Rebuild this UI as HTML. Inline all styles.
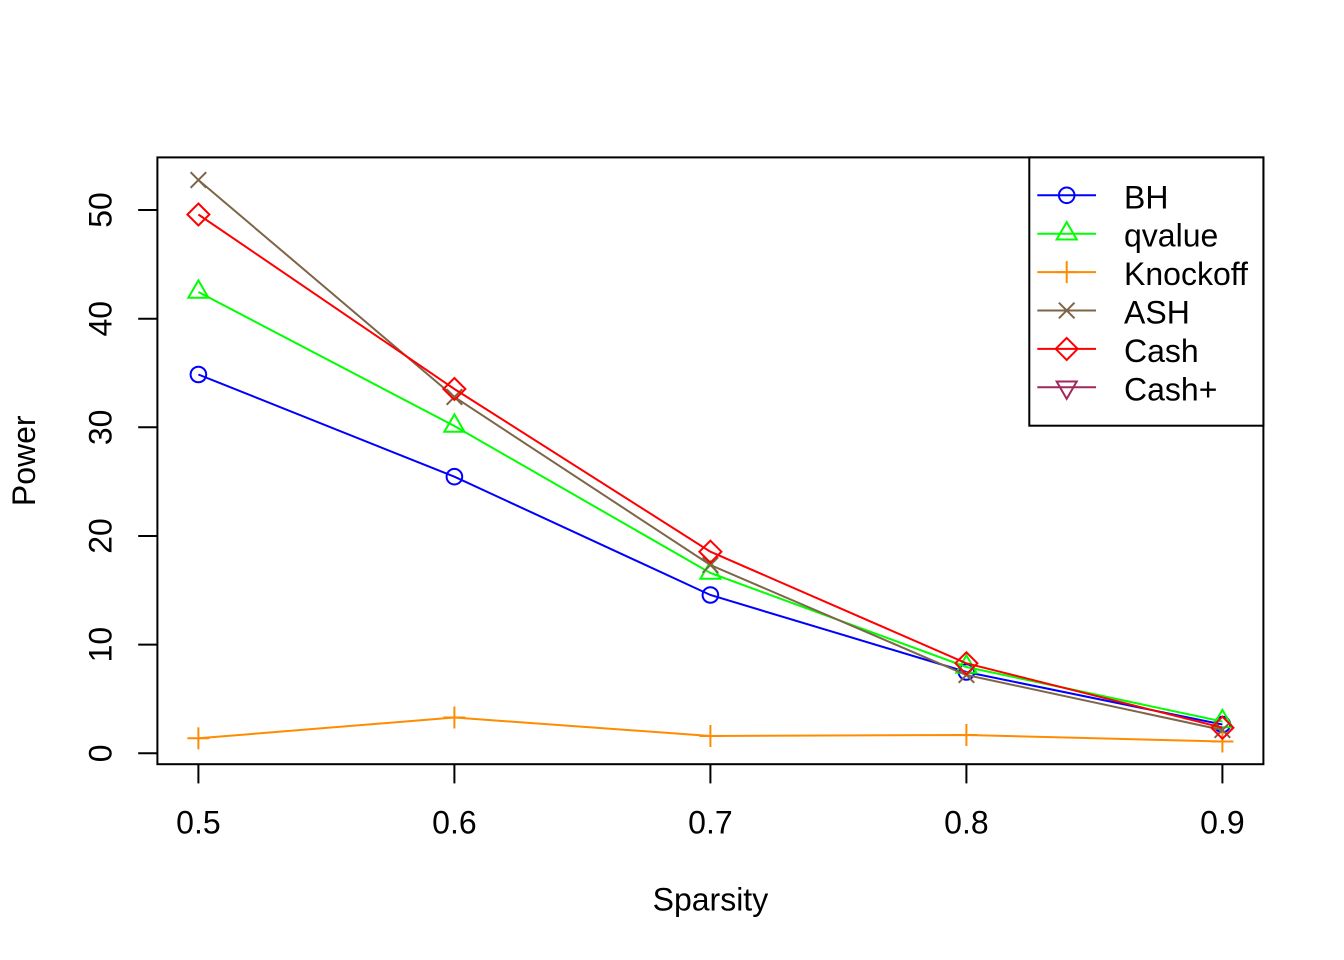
<!DOCTYPE html>
<html>
<head>
<meta charset="utf-8">
<style>
html,body{margin:0;padding:0;background:#fff;}
svg{display:block;}
text{font-family:"Liberation Sans",Arial,sans-serif;font-size:32px;fill:#000;}
</style>
</head>
<body>
<svg width="1344" height="960" viewBox="0 0 1344 960" xmlns="http://www.w3.org/2000/svg">
<rect x="0" y="0" width="1344" height="960" fill="#fff"/>

<!-- plot box -->
<rect x="157.4" y="157.4" width="1106" height="606.8" fill="none" stroke="#000" stroke-width="2"/>

<!-- x axis ticks -->
<g stroke="#000" stroke-width="2">
<line x1="198.4" y1="764.2" x2="198.4" y2="783.4"/>
<line x1="454.4" y1="764.2" x2="454.4" y2="783.4"/>
<line x1="710.4" y1="764.2" x2="710.4" y2="783.4"/>
<line x1="966.4" y1="764.2" x2="966.4" y2="783.4"/>
<line x1="1222.4" y1="764.2" x2="1222.4" y2="783.4"/>
<!-- y axis ticks -->
<line x1="157.4" y1="753.3" x2="138.2" y2="753.3"/>
<line x1="157.4" y1="644.6" x2="138.2" y2="644.6"/>
<line x1="157.4" y1="536.0" x2="138.2" y2="536.0"/>
<line x1="157.4" y1="427.3" x2="138.2" y2="427.3"/>
<line x1="157.4" y1="318.7" x2="138.2" y2="318.7"/>
<line x1="157.4" y1="210.0" x2="138.2" y2="210.0"/>
</g>

<!-- x tick labels -->
<g text-anchor="middle">
<text x="198.4" y="833.5">0.5</text>
<text x="454.4" y="833.5">0.6</text>
<text x="710.4" y="833.5">0.7</text>
<text x="966.4" y="833.5">0.8</text>
<text x="1222.4" y="833.5">0.9</text>
</g>
<!-- y tick labels -->
<g text-anchor="middle">
<text x="111.7" y="753.3" transform="rotate(-90 111.7 753.3)">0</text>
<text x="111.7" y="644.6" transform="rotate(-90 111.7 644.6)">10</text>
<text x="111.7" y="536.0" transform="rotate(-90 111.7 536.0)">20</text>
<text x="111.7" y="427.3" transform="rotate(-90 111.7 427.3)">30</text>
<text x="111.7" y="318.7" transform="rotate(-90 111.7 318.7)">40</text>
<text x="111.7" y="210.0" transform="rotate(-90 111.7 210.0)">50</text>
</g>

<!-- axis titles -->
<text x="710.4" y="910.5" text-anchor="middle">Sparsity</text>
<text x="35" y="460.8" text-anchor="middle" transform="rotate(-90 35 460.8)">Power</text>

<defs>
<g id="pcircle"><circle cx="0" cy="0" r="7.8" fill="none"/></g>
<g id="ptri"><polygon points="0,-11.6 10.05,5.8 -10.05,5.8" fill="none"/></g>
<g id="pplus"><line x1="-11" y1="0" x2="11" y2="0"/><line x1="0" y1="-11" x2="0" y2="11"/></g>
<g id="pcross"><line x1="-7.8" y1="-7.8" x2="7.8" y2="7.8"/><line x1="-7.8" y1="7.8" x2="7.8" y2="-7.8"/></g>
<g id="pdiam"><polygon points="0,-11 11,0 0,11 -11,0" fill="none"/></g>
<g id="pdtri"><polygon points="0,11.6 10.05,-5.8 -10.05,-5.8" fill="none"/></g>
</defs>

<!-- BH -->
<g stroke="#0000FF" stroke-width="2" fill="none">
<polyline points="198.4,374.5 454.4,476.7 710.4,595 966.4,672 1222.4,724.5"/>
<use href="#pcircle" x="198.4" y="374.5"/>
<use href="#pcircle" x="454.4" y="476.7"/>
<use href="#pcircle" x="710.4" y="595"/>
<use href="#pcircle" x="966.4" y="672"/>
<use href="#pcircle" x="1222.4" y="724.5"/>
</g>
<!-- qvalue -->
<g stroke="#00FF00" stroke-width="2" fill="none">
<polyline points="198.4,292 454.4,426 710.4,573 966.4,667 1222.4,721.5"/>
<use href="#ptri" x="198.4" y="292"/>
<use href="#ptri" x="454.4" y="426"/>
<use href="#ptri" x="710.4" y="573"/>
<use href="#ptri" x="966.4" y="667"/>
<use href="#ptri" x="1222.4" y="721.5"/>
</g>
<!-- Knockoff -->
<g stroke="#FF8C00" stroke-width="2" fill="none">
<polyline points="198.4,738.3 454.4,717.5 710.4,736 966.4,735 1222.4,741.5"/>
<use href="#pplus" x="198.4" y="738.3"/>
<use href="#pplus" x="454.4" y="717.5"/>
<use href="#pplus" x="710.4" y="736"/>
<use href="#pplus" x="966.4" y="735"/>
<use href="#pplus" x="1222.4" y="741.5"/>
</g>
<!-- ASH -->
<g stroke="#7E6548" stroke-width="2" fill="none">
<polyline points="198.4,180 454.4,397 710.4,565 966.4,675 1222.4,730"/>
<use href="#pcross" x="198.4" y="180"/>
<use href="#pcross" x="454.4" y="397"/>
<use href="#pcross" x="710.4" y="565"/>
<use href="#pcross" x="966.4" y="675"/>
<use href="#pcross" x="1222.4" y="730"/>
</g>
<!-- Cash -->
<g stroke="#FF0000" stroke-width="2" fill="none">
<polyline points="198.4,214.5 454.4,389 710.4,551.7 966.4,663.3 1222.4,727.7"/>
<use href="#pdiam" x="198.4" y="214.5"/>
<use href="#pdiam" x="454.4" y="389"/>
<use href="#pdiam" x="710.4" y="551.7"/>
<use href="#pdiam" x="966.4" y="663.3"/>
<use href="#pdiam" x="1222.4" y="727.7"/>
</g>

<!-- legend -->
<rect x="1029.3" y="157.4" width="234.1" height="268.3" fill="#fff" stroke="#000" stroke-width="2"/>
<g stroke-width="2" fill="none">
<g stroke="#0000FF"><line x1="1037.3" y1="195.3" x2="1096" y2="195.3"/><use href="#pcircle" x="1066.7" y="195.3"/></g>
<g stroke="#00FF00"><line x1="1037.3" y1="233.7" x2="1096" y2="233.7"/><use href="#ptri" x="1066.7" y="233.7"/></g>
<g stroke="#FF8C00"><line x1="1037.3" y1="272.1" x2="1096" y2="272.1"/><use href="#pplus" x="1066.7" y="272.1"/></g>
<g stroke="#7E6548"><line x1="1037.3" y1="310.5" x2="1096" y2="310.5"/><use href="#pcross" x="1066.7" y="310.5"/></g>
<g stroke="#FF0000"><line x1="1037.3" y1="348.9" x2="1096" y2="348.9"/><use href="#pdiam" x="1066.7" y="348.9"/></g>
<g stroke="#A0285C"><line x1="1037.3" y1="387.3" x2="1096" y2="387.3"/><use href="#pdtri" x="1066.7" y="387.3"/></g>
</g>
<g>
<text x="1124" y="208.3">BH</text>
<text x="1124" y="246.7">qvalue</text>
<text x="1124" y="285.1">Knockoff</text>
<text x="1124" y="323.5">ASH</text>
<text x="1124" y="361.9">Cash</text>
<text x="1124" y="400.3">Cash+</text>
</g>
</svg>
</body>
</html>
